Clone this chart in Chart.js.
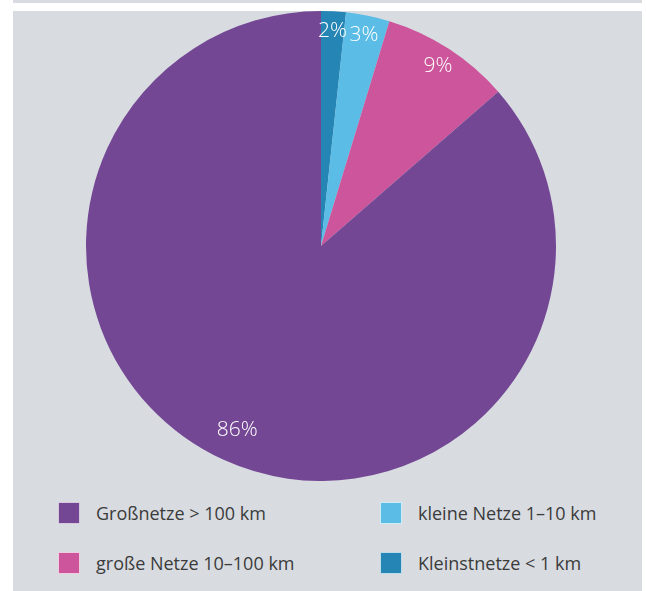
<!DOCTYPE html>
<html lang="de">
<head>
<meta charset="utf-8">
<script src="https://cdn.jsdelivr.net/npm/chart.js@4/dist/chart.umd.min.js"></script>
<style>
  body { margin: 0; background: #fff; width: 646px; height: 591px; position: relative; overflow: hidden; font-family: 'Open Sans', sans-serif; }
  #strip { position: absolute; left: 13px; top: 0; width: 629px; height: 3px; background: #d8dce1; }
  #panel { position: absolute; left: 13px; top: 11px; width: 629px; height: 580px; background: #d8dce1; }
  #chartBox { position: absolute; left: 0; top: 0; }
  #legend { position: absolute; left: 45px; top: 477px; display: grid; grid-auto-flow: column; grid-template-rows: 50px 50px; grid-template-columns: 322px 260px; }
  .item { display: flex; align-items: center; font-size: 18px; color: #3b3b3b; }
  .box { width: 20px; height: 20px; border: 1px solid rgba(255,255,255,0.7); margin-right: 16px; }
</style>
</head>
<body>
<div id="strip"></div>
<div id="panel">
  <div id="chartBox"><canvas id="chart" width="616" height="470"></canvas></div>
  <div id="legend"></div>
</div>
<script>
// Reihenfolge im Uhrzeigersinn ab 12 Uhr
const kategorien = ['Kleinstnetze < 1 km', 'kleine Netze 1–10 km', 'große Netze 10–100 km', 'Großnetze > 100 km'];
const anteile = [1.7, 3.0, 8.9, 86.4];
const farben = ['#2586b5', '#5bbde6', '#cd559b', '#734794'];

// Prozentzahlen in die Segmente schreiben
const labelPlugin = {
  id: 'prozentLabels',
  afterDatasetsDraw(chart) {
    const ctx = chart.ctx;
    const meta = chart.getDatasetMeta(0);
    ctx.save();
    ctx.fillStyle = '#fff';
    ctx.font = '300 21px "Open Sans", sans-serif';
    ctx.textAlign = 'center';
    ctx.textBaseline = 'middle';
    meta.data.forEach((arc, i) => {
      const p = arc.getProps(['x', 'y', 'startAngle', 'endAngle', 'outerRadius'], true);
      const mitte = (p.startAngle + p.endAngle) / 2;
      // kleine Stücke weiter außen
      const r = p.outerRadius * (anteile[i] < 10 ? 0.915 : 0.86);
      ctx.fillText(Math.round(anteile[i]) + '%', p.x + Math.cos(mitte) * r, p.y + Math.sin(mitte) * r);
    });
    ctx.restore();
  }
};

const chart = new Chart(document.getElementById('chart'), {
  type: 'pie',
  data: {
    labels: kategorien,
    datasets: [{
      data: anteile,
      backgroundColor: farben,
      borderWidth: 0
    }]
  },
  options: {
    responsive: false,
    animation: false,
    layout: { padding: 0 },
    plugins: {
      legend: { display: false },
      tooltip: { enabled: false }
    }
  },
  plugins: [labelPlugin]
});

// Legende: Spaltenweise, Großnetze zuerst
const legend = document.getElementById('legend');
kategorien.slice().reverse().forEach((name, idx) => {
  const i = kategorien.length - 1 - idx;
  const item = document.createElement('div');
  item.className = 'item';
  item.innerHTML = `<span class="box" style="background:${farben[i]}"></span><span>${name}</span>`;
  legend.appendChild(item);
});
</script>
</body>
</html>
